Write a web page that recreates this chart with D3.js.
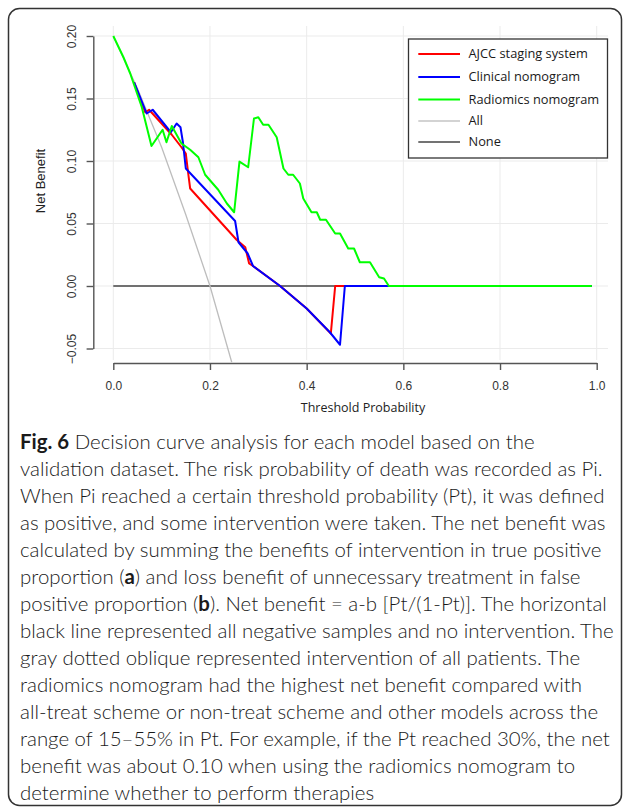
<!DOCTYPE html>
<html>
<head>
<meta charset="utf-8">
<script src="https://cdn.jsdelivr.net/npm/d3@7"></script>
<style>
  body { margin: 0; background: #fff; }
  svg { display: block; }
</style>
</head>
<body>
<div class="fig"></div>
<script>
// Configuration
var width = 627;
var height = 808;

// threshold probability / net benefit pairs
var ajcc = [[0.043,0.163],[0.066,0.139],[0.074,0.141],[0.121,0.121],[0.141,0.111],[0.150,0.106],
  [0.155,0.090],[0.159,0.078],[0.255,0.037],[0.273,0.031],[0.281,0.018],[0.289,0.016],
  [0.345,0.0],[0.400,-0.018],[0.450,-0.038],[0.459,0.0],[0.99,0.0]];
var clinical = [[0.043,0.163],[0.069,0.138],[0.0815,0.141],[0.119,0.123],[0.131,0.130],[0.139,0.127],
  [0.144,0.115],[0.150,0.094],[0.252,0.052],[0.259,0.035],[0.278,0.026],[0.289,0.016],
  [0.345,0.0],[0.400,-0.018],[0.448,-0.037],[0.469,-0.047],[0.479,0.0],[0.99,0.0]];
var radiomics = [[0,0.2],[0.021,0.183],[0.035,0.170],[0.059,0.143],[0.079,0.112],[0.102,0.125],
  [0.110,0.115],[0.121,0.128],[0.141,0.114],[0.159,0.109],[0.176,0.103],[0.190,0.089],
  [0.217,0.077],[0.235,0.066],[0.250,0.059],[0.261,0.0995],[0.279,0.095],[0.291,0.134],
  [0.300,0.135],[0.310,0.129],[0.321,0.129],[0.338,0.119],[0.352,0.094],[0.362,0.089],
  [0.372,0.089],[0.386,0.082],[0.393,0.070],[0.410,0.059],[0.421,0.059],[0.428,0.053],
  [0.440,0.053],[0.459,0.042],[0.469,0.042],[0.486,0.030],[0.498,0.030],[0.510,0.019],
  [0.531,0.019],[0.550,0.007],[0.560,0.006],[0.570,0.0],[0.99,0.0]];
var treatAll = [[0,0.2],[0.05,0.158],[0.1,0.111],[0.15,0.057],[0.2,0.0],[0.245,-0.061]];
var treatNone = [[0,0],[0.99,0]];

var xTicks = [0, 0.2, 0.4, 0.6, 0.8, 1.0];
var yTicks = [-0.05, 0, 0.05, 0.10, 0.15, 0.20];

var legendNames = ["AJCC staging system", "Clinical nomogram", "Radiomics nomogram", "All", "None"];
var legendColors = ["#ff0000", "#0000ff", "#00ff00", "#c4c4c4", "#444444"];

var caption = [
  "**Fig. 6** Decision curve analysis for each model based on the",
  "validation dataset. The risk probability of death was recorded as Pi.",
  "When Pi reached a certain threshold probability (Pt), it was defined",
  "as positive, and some intervention were taken. The net benefit was",
  "calculated by summing the benefits of intervention in true positive",
  "proportion (**a**) and loss benefit of unnecessary treatment in false",
  "positive proportion (**b**). Net benefit = a-b [Pt/(1-Pt)]. The horizontal",
  "black line represented all negative samples and no intervention. The",
  "gray dotted oblique represented intervention of all patients. The",
  "radiomics nomogram had the highest net benefit compared with",
  "all-treat scheme or non-treat scheme and other models across the",
  "range of 15\u201355% in Pt. For example, if the Pt reached 30%, the net",
  "benefit was about 0.10 when using the radiomics nomogram to",
  "determine whether to perform therapies"
];

var svg = d3.select(".fig").append("svg")
  .attr("width", width)
  .attr("height", height);

// frame round the figure
svg.append("rect")
  .attr("x", 8.5).attr("y", 8.5)
  .attr("width", 613).attr("height", 797)
  .attr("rx", 11)
  .attr("fill", "none")
  .attr("stroke", "#333")
  .attr("stroke-width", 1.5);

// scales
var x = d3.scaleLinear().domain([0, 1]).range([113.3, 596.7]);
var y = d3.scaleLinear().domain([-0.05, 0.2]).range([348.5, 36]);

// grid
var grid = svg.append("g").attr("stroke", "#ebebeb").attr("stroke-width", 1);
grid.selectAll(".gv").data(xTicks).enter().append("line")
  .attr("x1", d => x(d)).attr("x2", d => x(d))
  .attr("y1", 26).attr("y2", 360);
grid.selectAll(".gh").data(yTicks).enter().append("line")
  .attr("x1", 93).attr("x2", 608)
  .attr("y1", d => y(d)).attr("y2", d => y(d));

// axes
var yAxis = svg.append("g")
  .attr("transform", "translate(93.3,0)")
  .call(d3.axisLeft(y).tickValues(yTicks).tickFormat(d3.format(".2f")).tickSize(6.7).tickSizeOuter(0));
var xAxis = svg.append("g")
  .attr("transform", "translate(0,363)")
  .call(d3.axisBottom(x).tickValues(xTicks).tickFormat(d3.format(".1f")).tickSize(7).tickSizeOuter(0).tickPadding(11.5));

[xAxis, yAxis].forEach(function(a) {
  a.select(".domain").attr("stroke", "#555").attr("stroke-width", 1.4);
  a.selectAll(".tick line").attr("stroke", "#555").attr("stroke-width", 1.4);
  a.selectAll(".tick text")
    .attr("fill", "#333")
    .style("font-family", "'Liberation Sans', Arial, sans-serif")
    .style("font-size", "12px");
});
yAxis.selectAll(".tick text")
  .attr("transform", "rotate(-90)")
  .attr("x", 0)
  .attr("y", -21.6)
  .attr("dy", "0.35em")
  .attr("text-anchor", "middle");

svg.append("text")
  .attr("transform", "translate(45,181) rotate(-90)")
  .attr("text-anchor", "middle")
  .attr("fill", "#222")
  .style("font-family", "'Liberation Sans', Arial, sans-serif")
  .style("font-size", "13px")
  .text("Net Benefit");

svg.append("text")
  .attr("x", 363).attr("y", 412)
  .attr("text-anchor", "middle")
  .attr("fill", "#222")
  .style("font-family", "'Open Sans', sans-serif")
  .style("font-size", "12.5px")
  .text("Threshold Probability");

// curves
var line = d3.line().x(d => x(d[0])).y(d => y(d[1]));
var curves = [
  {data: treatNone, color: legendColors[4], w: 1.5},
  {data: treatAll, color: "#bdbdbd", w: 1.3},
  {data: ajcc, color: legendColors[0], w: 2},
  {data: clinical, color: legendColors[1], w: 2},
  {data: radiomics, color: legendColors[2], w: 2}
];
svg.append("g").selectAll("path")
  .data(curves)
  .enter().append("path")
  .attr("d", d => line(d.data))
  .attr("fill", "none")
  .attr("stroke", d => d.color)
  .attr("stroke-width", d => d.w)
  .attr("stroke-linejoin", "round");

// legend
var legend = svg.append("g");
legend.append("rect")
  .attr("x", 408.5).attr("y", 39)
  .attr("width", 199).attr("height", 119)
  .attr("fill", "#fff")
  .attr("stroke", "#333")
  .attr("stroke-width", 1.3);
var rowY = [54, 77, 99.5, 121, 142];
var items = legend.selectAll(".item").data(legendNames).enter().append("g");
items.append("line")
  .attr("x1", 418.3).attr("x2", 460)
  .attr("y1", (d, i) => rowY[i]).attr("y2", (d, i) => rowY[i])
  .attr("stroke", (d, i) => legendColors[i])
  .attr("stroke-width", (d, i) => i < 3 ? 2 : 1.6);
items.append("text")
  .attr("x", 468.5)
  .attr("y", (d, i) => rowY[i])
  .attr("dy", "0.35em")
  .attr("fill", "#1a1a1a")
  .style("font-family", "'Open Sans', sans-serif")
  .style("font-size", "12.8px")
  .text(d => d);

// caption
var cap = svg.append("g")
  .style("font-family", "Lato, 'Open Sans', sans-serif")
  .style("font-weight", 300)
  .attr("fill", "#1a1a1a");
caption.forEach(function(str, i) {
  var t = cap.append("text").attr("x", 20).attr("y", 449 + i * 27);
  str.split("**").forEach(function(part, j) {
    if (!part) return;
    t.append("tspan").attr("font-weight", j % 2 ? "bold" : 300).text(part);
  });
});
// fit the font so the second line spans the width it does in the figure
cap.style("font-size", "18px");
var w = cap.selectAll("text").nodes()[1].getComputedTextLength();
cap.style("font-size", (18 * 583 / w) + "px");
</script>
</body>
</html>
